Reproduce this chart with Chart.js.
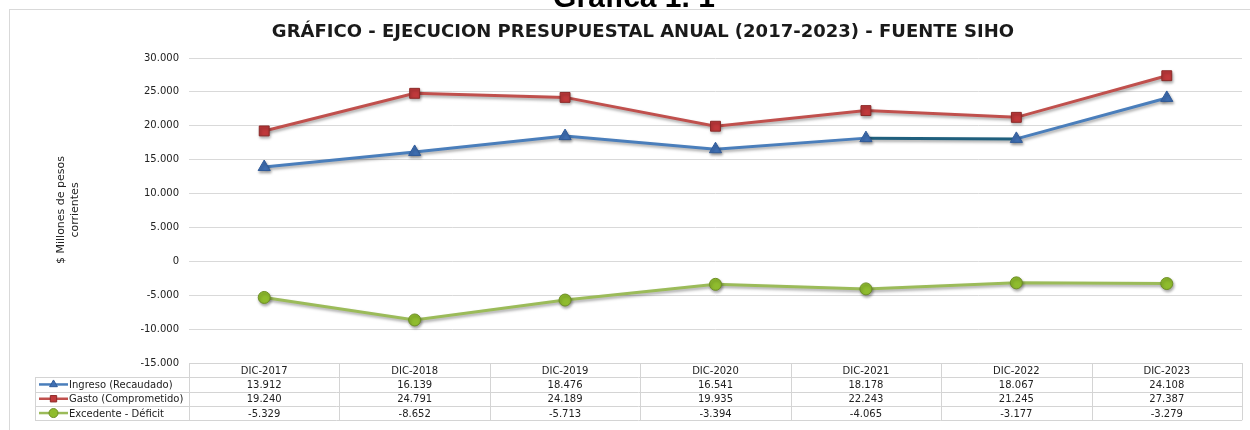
<!DOCTYPE html>
<html>
<head>
<meta charset="utf-8">
<script src="https://cdn.jsdelivr.net/npm/chart.js@4.4.1/dist/chart.umd.min.js"></script>
<style>
  html, body { margin: 0; padding: 0; background: #fff; }
  #wrap { width: 1250px; height: 430px; position: relative; }
</style>
</head>
<body>
<div id="wrap"><canvas id="grafica"></canvas></div>
<script>
const periodos = ['DIC-2017', 'DIC-2018', 'DIC-2019', 'DIC-2020', 'DIC-2021', 'DIC-2022', 'DIC-2023'];
const ingreso = [13912, 16139, 18476, 16541, 18178, 18067, 24108];
const gasto = [19240, 24791, 24189, 19935, 22243, 21245, 27387];
const excedente = [-5329, -8652, -5713, -3394, -4065, -3177, -3279];
const nombres = ['Ingreso (Recaudado)', 'Gasto (Comprometido)', 'Excedente - Déficit'];

const FONT = '"DejaVu Sans", Verdana, sans-serif';

// formato con punto de miles
function miles(v) {
    const s = Math.abs(Math.round(v)).toString().replace(/\B(?=(\d{3})+(?!\d))/g, '.');
    return (v < 0 ? '-' : '') + s;
}

const tablaPlugin = {
    id: 'tabla',
    beforeDraw(chart) {
        const ctx = chart.ctx;
        ctx.save();
        // marco exterior
        ctx.strokeStyle = '#d9d9d9';
        ctx.lineWidth = 1;
        ctx.strokeRect(9.5, 9.5, 1245, 430);
        // titulo cortado de arriba
        ctx.fillStyle = '#000';
        ctx.font = 'bold 30px "Liberation Sans", Arial, sans-serif';
        ctx.textAlign = 'center';
        ctx.textBaseline = 'alphabetic';
        ctx.fillText('Gráfica 1. 1', 634, 7);
        // titulo del grafico
        ctx.font = 'bold 18px ' + FONT;
        ctx.fillStyle = '#1a1a1a';
        ctx.textBaseline = 'middle';
        ctx.fillText('GRÁFICO - EJECUCION PRESUPUESTAL ANUAL (2017-2023) - FUENTE SIHO', 643, 32);
        // titulo eje y
        ctx.save();
        ctx.translate(68, 210);
        ctx.rotate(-Math.PI / 2);
        ctx.font = '11px ' + FONT;
        ctx.fillStyle = '#222';
        ctx.fillText('$ Millones de pesos', 0, -7);
        ctx.fillText('corrientes', 0, 7);
        ctx.restore();
        ctx.restore();
    },
    afterDraw(chart) {
        const ctx = chart.ctx;
        const x = chart.scales.x;
        const area = chart.chartArea;
        const top = area.bottom;
        const rowH = 14.3;
        const colW = (area.right - area.left) / periodos.length;
        const leftT = 35;
        ctx.save();
        ctx.strokeStyle = '#d4d4d4';
        ctx.lineWidth = 1;
        ctx.beginPath();
        // lineas horizontales
        for (let r = 0; r <= 4; r++) {
            const y = Math.round(top + r * rowH) + 0.5;
            ctx.moveTo(r === 0 ? area.left : leftT, y);
            ctx.lineTo(area.right, y);
        }
        // lineas verticales
        for (let c = 0; c <= periodos.length; c++) {
            const xx = Math.round(area.left + c * colW) + 0.5;
            ctx.moveTo(xx, top);
            ctx.lineTo(xx, top + 4 * rowH);
        }
        ctx.moveTo(leftT + 0.5, top + rowH);
        ctx.lineTo(leftT + 0.5, top + 4 * rowH);
        ctx.stroke();

        ctx.font = '10px ' + FONT;
        ctx.fillStyle = '#222';
        ctx.textAlign = 'center';
        ctx.textBaseline = 'middle';
        const series = [ingreso, gasto, excedente];
        periodos.forEach((p, i) => {
            const cx = x.getPixelForValue(i);
            ctx.fillText(p, cx, top + rowH / 2 + 1);
            series.forEach((s, k) => {
                ctx.fillText(miles(s[i]), cx, top + rowH * (k + 1.5) + 1);
            });
        });
        // claves de leyenda
        chart.data.datasets.forEach((ds, k) => {
            const y = top + rowH * (k + 1.5);
            ctx.strokeStyle = ds.borderColor;
            ctx.lineWidth = 2.5;
            ctx.beginPath();
            ctx.moveTo(39, y);
            ctx.lineTo(68, y);
            ctx.stroke();
            ctx.fillStyle = ds.pointBackgroundColor;
            ctx.strokeStyle = ds.pointBorderColor;
            ctx.lineWidth = 1;
            Chart.helpers.drawPoint(ctx, {
                pointStyle: ds.pointStyle, radius: 4.5, rotation: 0, borderWidth: 1
            }, 53.5, y);
            ctx.fillStyle = '#222';
            ctx.textAlign = 'left';
            ctx.fillText(nombres[k], 69, y + 1);
            ctx.textAlign = 'center';
        });
        ctx.restore();
    }
};

const sombraPlugin = {
    id: 'sombra',
    beforeDatasetsDraw(chart) {
        const ctx = chart.ctx;
        ctx.save();
        ctx.shadowColor = 'rgba(0,0,0,0.35)';
        ctx.shadowBlur = 3;
        ctx.shadowOffsetX = 1;
        ctx.shadowOffsetY = 2;
    },
    afterDatasetsDraw(chart) {
        chart.ctx.restore();
    }
};

new Chart(document.getElementById('grafica'), {
    type: 'line',
    data: {
        labels: periodos,
        datasets: [
            {
                label: nombres[0],
                data: ingreso,
                borderColor: '#4a7ebb',
                borderWidth: 3,
                pointStyle: 'triangle',
                pointRadius: 7,
                pointBackgroundColor: '#3f6fb3',
                pointBorderColor: '#2f5a99',
                pointBorderWidth: 1,
                segment: {
                    borderColor: c => c.p0DataIndex === 4 ? '#1f5f7d' : undefined
                }
            },
            {
                label: nombres[1],
                data: gasto,
                borderColor: '#c0504d',
                borderWidth: 3,
                pointStyle: 'rect',
                pointRadius: 7,
                pointBackgroundColor: '#c0393b',
                pointBorderColor: '#8c2a28',
                pointBorderWidth: 1
            },
            {
                label: nombres[2],
                data: excedente,
                borderColor: '#9bbb59',
                borderWidth: 3,
                pointStyle: 'circle',
                pointRadius: 6,
                pointBackgroundColor: '#8fbc2e',
                pointBorderColor: '#6e8f25',
                pointBorderWidth: 1
            }
        ]
    },
    options: {
        responsive: true,
        maintainAspectRatio: false,
        animation: false,
        layout: { padding: { top: 58, right: 3, bottom: 67, left: 0 } },
        plugins: {
            legend: { display: false },
            title: { display: false },
            tooltip: { enabled: false }
        },
        scales: {
            x: {
                display: false,
                offset: true
            },
            y: {
                min: -15000,
                max: 30000,
                afterFit(scale) { scale.width = 189; },
                border: { display: false },
                grid: { color: '#d9d9d9', drawTicks: false },
                ticks: {
                    stepSize: 5000,
                    padding: 10,
                    color: '#222',
                    font: { family: FONT, size: 10 },
                    callback: v => miles(v)
                }
            }
        }
    },
    plugins: [tablaPlugin, sombraPlugin]
});
</script>
</body>
</html>
